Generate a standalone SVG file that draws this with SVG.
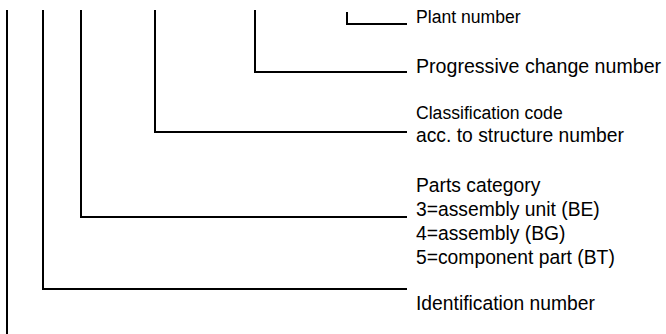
<svg xmlns="http://www.w3.org/2000/svg" width="666" height="334" viewBox="0 0 666 334">
<style>
.c{fill:none;stroke:#000;stroke-width:2;stroke-linecap:butt;stroke-linejoin:miter}
.t{font-family:"Liberation Sans",Arial,sans-serif;font-size:19.3px;fill:#000}
.s{font-family:"Liberation Sans",Arial,sans-serif;font-size:17.6px;fill:#000}
.p{font-size:19.6px}
</style>
<rect width="666" height="334" fill="#fff"/>
<g id="connectors">
<polyline class="c" points="7,10 7,334"/>
<polyline class="c" points="43,10 43,289 407,289"/>
<polyline class="c" points="81,10 81,217 407,217"/>
<polyline class="c" points="155,10 155,132 407,132"/>
<polyline class="c" points="255,10 255,72 407,72"/>
<polyline class="c" points="347,12 347,24 407,24"/>
</g>
<g id="plant-number"><text class="s" x="416" y="23">Plant number</text></g>
<g id="progressive-change-number"><text class="t p" x="416" y="73">Progressive change number</text></g>
<g id="classification-code">
<text class="s" x="416" y="119">Classification code</text>
<text class="t" x="416" y="142">acc. to structure number</text>
</g>
<g id="parts-category">
<text class="t" x="416" y="192">Parts category</text>
<text class="t" x="416" y="216">3=assembly unit (BE)</text>
<text class="t" x="416" y="240">4=assembly (BG)</text>
<text class="t" x="416" y="264">5=component part (BT)</text>
</g>
<g id="identification-number"><text class="t" x="416" y="310">Identification number</text></g>
</svg>
